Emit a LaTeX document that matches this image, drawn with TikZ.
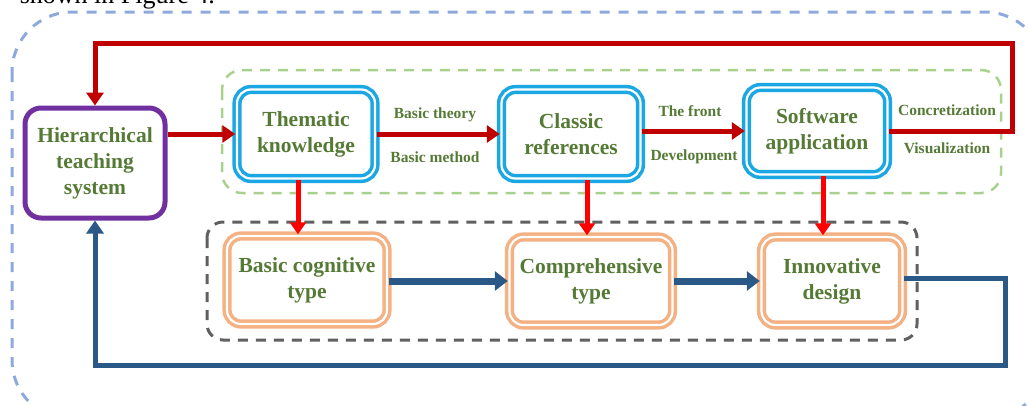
\documentclass[tikz,border=0pt]{standalone}
\usepackage{fontspec}
\setmainfont{Liberation Serif}
\usetikzlibrary{arrows.meta,calc}
\definecolor{txtgreen}{HTML}{557A35}
\definecolor{darkred}{HTML}{C00000}
\definecolor{brightred}{HTML}{FF0000}
\definecolor{navy}{HTML}{2B5987}
\definecolor{purp}{HTML}{7030A0}
\definecolor{cyanb}{HTML}{1AA7E3}
\definecolor{orng}{HTML}{F4B183}
\definecolor{grdash}{HTML}{A9D18E}
\definecolor{gydash}{HTML}{606060}
\definecolor{bldash}{HTML}{8EA9DB}
\tikzset{
  boxtext/.style={text=txtgreen, font=\fontsize{21.5}{26}\selectfont\bfseries, align=center, inner sep=0pt},
  hierbox/.style={boxtext, draw=purp, line width=5pt, rounded corners=16pt},
  bluebox/.style={boxtext, draw=cyanb, double=white, double distance=2.2pt, line width=3.5pt, rounded corners=14pt},
  orangebox/.style={boxtext, draw=orng, double=white, double distance=2.2pt, line width=3.5pt, rounded corners=14pt},
  lbl/.style={text=txtgreen, font=\fontsize{15.5}{18}\selectfont\bfseries, inner sep=0pt},
  redarrow/.style={draw=darkred, line width=5pt, -{Triangle[length=13pt,width=17pt]}},
  reddown/.style={draw=brightred, line width=5pt, -{Triangle[length=12pt,width=16pt]}},
  bluearrow/.style={draw=navy, line width=7pt, -{Triangle[length=13pt,width=19pt]}},
  blueloop/.style={draw=navy, line width=5pt, -{Triangle[length=13pt,width=17pt]}},
}
\begin{document}
\begin{tikzpicture}[x=1pt,y=-1pt]
\clip (0,0) rectangle (1028,405);
\useasboundingbox (0,0) rectangle (1028,405);

% caption text cut by the top edge, as in the reference
\node[anchor=base east, inner sep=0pt, font=\fontsize{26}{30}\selectfont] (cap) at (215,3) {shown in Figure 4.};

% containers
\draw[bldash, line width=3pt, dash pattern=on 10pt off 9pt, rounded corners=60pt] (12,12) rectangle (1045,420);
\draw[grdash, line width=2.5pt, dash pattern=on 10pt off 8pt, rounded corners=20pt] (222,70) rectangle (1001,193);
\draw[gydash, line width=3pt, dash pattern=on 10pt off 8pt, rounded corners=16pt] (207,222) rectangle (917,340);

% nodes
\node[hierbox, minimum width=140pt, minimum height=110pt] (hier) at (95,163) {Hierarchical\\teaching\\system};
\node[bluebox, minimum width=138pt, minimum height=89pt] (them) at (306,134) {Thematic\\knowledge};
\node[bluebox, minimum width=139pt, minimum height=89pt] (clas) at (571,134) {Classic\\references};
\node[bluebox, minimum width=141pt, minimum height=87pt] (soft) at (817,131) {Software\\application};
\node[orangebox, minimum width=160pt, minimum height=88pt] (basic) at (307,280) {Basic cognitive\\type};
\node[orangebox, minimum width=163pt, minimum height=88pt] (comp) at (591,281) {Comprehensive\\type};
\node[orangebox, minimum width=141pt, minimum height=88pt] (innov) at (832,281) {Innovative\\design};

% labels
\node[lbl] (l1) at (435,115) {Basic theory};
\node[lbl] (l2) at (435,157) {Basic method};
\node[lbl] (l3) at (690,111) {The front};
\node[lbl] (l4) at (694,157) {Development};
\node[lbl] (l5) at (947,110) {Concretization};
\node[lbl] (l6) at (947,148) {Visualization};

% helper coordinates
\coordinate (rt) at (1012,43);
\coordinate (rb) at (1005,365);
\coordinate (a1) at (298,0);
\coordinate (a2) at (587,0);
\coordinate (a3) at (823,0);

% red connectors
\draw[redarrow] (hier.east |- them.west) -- (them.west);
\draw[redarrow] (them.east) -- (clas.west);
\draw[redarrow] (clas.east |- soft.west) -- (soft.west);
\draw[redarrow] (soft.east) -| (rt) -| (hier.north);

\draw[reddown] (them.south -| a1) -- (basic.north -| a1);
\draw[reddown] (clas.south -| a2) -- (comp.north -| a2);
\draw[reddown] (soft.south -| a3) -- (innov.north -| a3);

% blue connectors
\draw[bluearrow] (basic.east |- comp.west) -- (comp.west);
\draw[bluearrow] (comp.east) -- (innov.west);
\draw[blueloop] ([yshift=3pt]innov.east) -| (rb) -| (hier.south);
\end{tikzpicture}
\end{document}
